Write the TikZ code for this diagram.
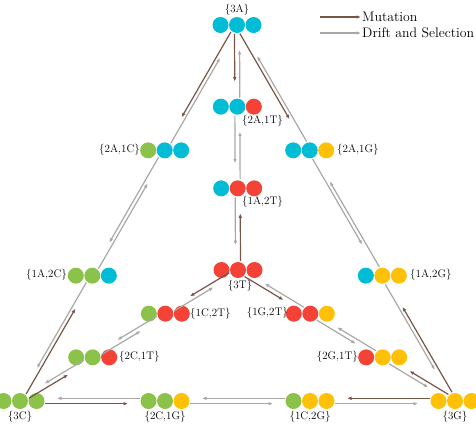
\documentclass[tikz,border=0pt]{standalone}
\usetikzlibrary{calc,arrows.meta}
\definecolor{cA}{RGB}{0,188,212}
\definecolor{cT}{RGB}{244,67,54}
\definecolor{cC}{RGB}{139,195,74}
\definecolor{cG}{RGB}{255,193,7}
\definecolor{mut}{RGB}{121,85,72}
\definecolor{dri}{RGB}{168,168,168}
\tikzset{
  dot/.style={circle,fill=#1,minimum size=16pt,inner sep=0pt},
  lab/.style={font=\fontsize{11}{13}\selectfont, inner sep=1pt},
  leg/.style={font=\fontsize{13.8}{16}\selectfont, inner sep=1pt},
  mutarr/.style={draw=mut, line width=1.2pt, -{Latex[length=4.5pt,width=3.6pt]}},
  driarr/.style={draw=dri, line width=1.2pt, -{Latex[length=4.5pt,width=3.6pt]}},
}
\newcommand\state[6]{%
  \coordinate (#1) at (#2,#3);
  \node[dot=#4] (#1-1) at ($(#1)+(-16.5,0)$) {};
  \node[dot=#5] (#1-2) at (#1) {};
  \node[dot=#6] (#1-3) at ($(#1)+(16.5,0)$) {};
}
% style, from, to, start gap, end gap, side offset
\newcommand\conn[6]{%
  \pgfmathanglebetweenpoints{\pgfpointanchor{#2}{center}}{\pgfpointanchor{#3}{center}}%
  \edef\myang{\pgfmathresult}%
  \draw[#1, shorten <=#4pt, shorten >=#5pt, transform canvas={shift={(\myang-90:#6pt)}}] (#2) -- (#3);
}
% one edge X - I1 - I2 - Y : gaps s, e and offset d
\newcommand\edge[7]{%
  \conn{mutarr}{#1}{#2}{#5}{#6}{#7}
  \conn{driarr}{#2}{#1}{#5}{#6}{#7}
  \conn{driarr}{#2}{#3}{#5}{#6}{#7}
  \conn{driarr}{#3}{#2}{#5}{#6}{#7}
  \conn{driarr}{#3}{#4}{#5}{#6}{#7}
  \conn{mutarr}{#4}{#3}{#5}{#6}{#7}
}
\begin{document}
\begin{tikzpicture}[x=1pt,y=-1pt]
\useasboundingbox (0,0) rectangle (476,426);
% states
\state{sA}{237}{25}{cA}{cA}{cA}
\state{sAAT}{237.33}{106.67}{cA}{cA}{cT}
\state{sATT}{237.67}{188.33}{cA}{cT}{cT}
\state{sT}{238}{270}{cT}{cT}{cT}
\state{sCAA}{164.67}{150.33}{cC}{cA}{cA}
\state{sCCA}{92.33}{275.67}{cC}{cC}{cA}
\state{sAAG}{309.67}{150.33}{cA}{cA}{cG}
\state{sAGG}{382.33}{275.67}{cA}{cG}{cG}
\state{sC}{20}{401}{cC}{cC}{cC}
\state{sCCG}{165}{401}{cC}{cC}{cG}
\state{sCGG}{310}{401}{cC}{cG}{cG}
\state{sG}{455}{401}{cG}{cG}{cG}
\state{sCCT}{92.67}{357.33}{cC}{cC}{cT}
\state{sCTT}{165.33}{313.67}{cC}{cT}{cT}
\state{sTGG}{382.67}{357.33}{cT}{cG}{cG}
\state{sTTG}{310.33}{313.67}{cT}{cT}{cG}
% labels
\node[lab, anchor=south] (lA) at (237,16) {\{3A\}};
\node[lab, anchor=west] (lAAT) at (241,121) {\{2A,1T\}};
\node[lab, anchor=west] (lATT) at (241,202) {\{1A,2T\}};
\node[lab, anchor=north] (lT) at (240,279) {\{3T\}};
\node[lab, anchor=east] (lCAA) at (141,150) {\{2A,1C\}};
\node[lab, anchor=east] (lCCA) at (68,275) {\{1A,2C\}};
\node[lab, anchor=west] (lAAG) at (336,150) {\{2A,1G\}};
\node[lab, anchor=west] (lAGG) at (409,275) {\{1A,2G\}};
\node[lab, anchor=west] (lCTT) at (189,314) {\{1C,2T\}};
\node[lab, anchor=west] (lCCT) at (118,357) {\{2C,1T\}};
\node[lab, anchor=east] (lTTG) at (289,313) {\{1G,2T\}};
\node[lab, anchor=east] (lTGG) at (359,357) {\{2G,1T\}};
\node[lab, anchor=north] (lC) at (20,410) {\{3C\}};
\node[lab, anchor=north] (lCCG) at (165,410) {\{2C,1G\}};
\node[lab, anchor=north] (lCGG) at (310,410) {\{1C,2G\}};
\node[lab, anchor=north] (lG) at (455,410) {\{3G\}};
% edges
\edge{sA}{sCAA}{sCCA}{sC}{9}{37}{1.8}
\edge{sA}{sAAG}{sAGG}{sG}{9}{37}{1.8}
\edge{sC}{sCCG}{sCGG}{sG}{25}{37}{2.7}
\edge{sA}{sAAT}{sATT}{sT}{9}{25}{2.5}
\edge{sC}{sCCT}{sCTT}{sT}{9}{30}{2.2}
\edge{sG}{sTGG}{sTTG}{sT}{9}{30}{2.2}
% legend
\coordinate (m0) at (320,17);
\node[leg, anchor=west] (mtext) at (361,17) {Mutation};
\draw[mutarr] (m0) -- (mtext.west);
\coordinate (d0) at (320,33);
\node[leg, anchor=west] (dtext) at (361,33) {Drift and Selection};
\draw[driarr] (d0) -- (dtext.west);
\end{tikzpicture}
\end{document}
